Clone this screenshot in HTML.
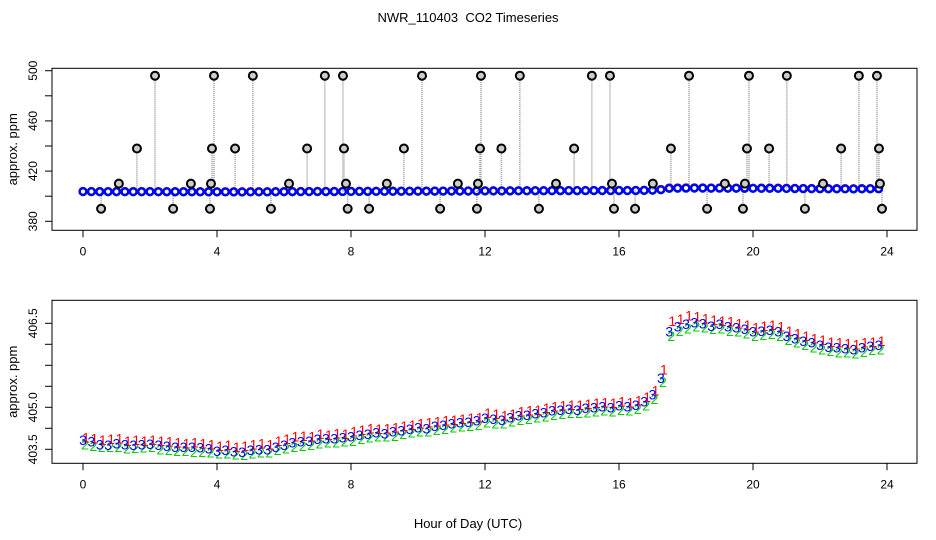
<!DOCTYPE html>
<html><head><meta charset="utf-8"><style>
body{margin:0;background:#fff;}
svg{display:block;font-family:"Liberation Sans",sans-serif;}
</style></head><body>
<svg id="chart" width="936" height="540" viewBox="0 0 936 540" xmlns="http://www.w3.org/2000/svg">
<rect width="936" height="540" fill="#fff"/>
<text x="468" y="22" font-size="13" text-anchor="middle" xml:space="preserve">NWR_110403  CO2 Timeseries</text>
<text x="468" y="528" font-size="13" text-anchor="middle">Hour of Day (UTC)</text>
<g id="top"></g>
<g id="bot"></g>
</svg>
<script>
const times=[0,0.25,0.5,0.75,1,1.25,1.5,1.75,2,2.25,2.5,2.75,3,3.25,3.5,3.75,
4,4.25,4.5,4.75,5,5.25,5.5,5.75,6,6.25,6.5,6.75,7,7.25,7.5,7.75,
8,8.25,8.5,8.75,9,9.25,9.5,9.75,10,10.25,10.5,10.75,11,11.25,11.5,11.75,
12,12.25,12.5,12.75,13,13.25,13.5,13.75,14,14.25,14.5,14.75,15,15.25,15.5,15.75,
16,16.25,16.5,16.75,17,17.25,17.5,17.75,18,18.25,18.5,18.75,19,19.25,19.5,19.75,
20,20.25,20.5,20.75,21,21.25,21.5,21.75,22,22.25,22.5,22.75,23,23.25,23.5,23.75];
const series3=[403.72,403.68,403.62,403.60,403.64,403.62,403.60,403.62,403.63,403.60,403.58,403.56,403.55,403.55,403.54,403.52,
403.46,403.48,403.45,403.43,403.48,403.50,403.49,403.55,403.60,403.66,403.68,403.70,403.74,403.76,403.76,403.78,
403.80,403.84,403.86,403.90,403.88,403.92,403.95,403.98,404.02,404.00,404.05,404.08,404.12,404.14,404.15,404.18,
404.24,404.22,404.20,404.26,404.30,404.32,404.35,404.38,404.42,404.44,404.46,404.44,404.48,404.50,404.52,404.50,
404.54,404.52,404.56,404.64,404.80,405.20,406.30,406.42,406.48,406.52,406.50,406.44,406.48,406.42,406.40,406.36,
406.30,406.32,406.34,406.30,406.20,406.14,406.08,406.04,405.98,405.94,405.92,405.90,405.88,405.92,405.96,405.98];
const series1=[403.78,403.76,403.72,403.74,403.76,403.70,403.72,403.70,403.72,403.70,403.68,403.66,403.64,403.66,403.64,403.62,
403.58,403.60,403.56,403.58,403.62,403.64,403.62,403.70,403.74,403.80,403.82,403.80,403.86,403.84,403.88,403.86,
403.92,403.96,404.00,403.98,404.00,404.02,404.06,404.08,404.12,404.14,404.16,404.18,404.20,404.22,404.24,404.26,
404.36,404.34,404.30,404.34,404.40,404.42,404.44,404.48,404.52,404.54,404.56,404.55,404.58,404.60,404.62,404.60,
404.64,404.62,404.66,404.74,404.90,405.40,406.55,406.60,406.68,406.66,406.62,406.58,406.56,406.54,406.50,406.46,
406.40,406.44,406.46,406.42,406.32,406.26,406.20,406.14,406.10,406.06,406.04,406.02,406.00,406.04,406.06,406.08];
const series2=[403.62,403.58,403.55,403.56,403.55,403.52,403.53,403.54,403.55,403.50,403.48,403.46,403.46,403.44,403.44,403.42,
403.40,403.40,403.38,403.36,403.40,403.42,403.42,403.48,403.52,403.56,403.58,403.60,403.64,403.66,403.66,403.68,
403.70,403.74,403.78,403.80,403.80,403.82,403.86,403.90,403.92,403.92,403.96,403.98,404.02,404.04,404.06,404.08,
404.14,404.12,404.12,404.16,404.20,404.22,404.26,404.28,404.32,404.34,404.36,404.36,404.38,404.40,404.42,404.40,
404.44,404.42,404.46,404.54,404.70,405.10,406.20,406.32,406.38,406.42,406.40,406.36,406.38,406.32,406.30,406.26,
406.20,406.22,406.24,406.20,406.10,406.04,405.98,405.92,405.88,405.84,405.80,405.80,405.78,405.82,405.86,405.88];
const outlierTimes=[0.54,1.07,1.61,2.15,2.69,3.22,3.79,3.82,3.85,3.91,4.54,5.07,5.61,6.15,6.69,7.22,7.76,7.79,7.85,7.9,
8.54,9.07,9.58,10.12,10.66,11.19,11.76,11.79,11.85,11.88,12.49,13.04,13.61,14.12,14.66,15.19,15.73,15.79,15.85,
16.48,17.01,17.55,18.09,18.63,19.16,19.7,19.76,19.82,19.88,20.48,21.01,21.55,22.09,22.63,23.16,23.7,23.76,23.79,23.85];
const outlierValues=[390,410,438,496,390,410,390,410,438,496,438,496,390,410,438,496,496,438,410,390,
390,410,438,496,390,410,390,410,438,496,438,496,390,410,438,496,496,410,390,
390,410,438,496,390,410,390,410,438,496,438,496,390,410,438,496,496,438,410,390];
const topTicks=[380,400,420,440,460,480,500];
const topLabels=["380","","420","","460","","500"];
const botTicks=[403.5,404,404.5,405,405.5,406,406.5];
const botLabels=["403.5","","405.0","","","","406.5"];
const xTicks=[0,4,8,12,16,20,24];

const NS="http://www.w3.org/2000/svg";
function mk(tag,attrs,parent){const e=document.createElementNS(NS,tag);for(const k in attrs)e.setAttribute(k,attrs[k]);parent.appendChild(e);return e;}
const xs=h=>83+h*33.5;
const yTop=v=>221.3-(v-380)*1.255;
const yBot=v=>449.3-(v-403.5)*42;

function frame(g,top,bottom,yTicks,yLabels,yf,name){
  const r=mk('rect',{x:52,y:top,width:865,height:bottom-top,fill:'none',stroke:'#000','stroke-width':1},g);
  
  
  xTicks.forEach(h=>{
    const l=mk('line',{x1:xs(h),x2:xs(h),y1:bottom,y2:bottom+7,stroke:'#000'},g);
    
    
    const t=mk('text',{x:xs(h),y:bottom+25,'font-size':12,'text-anchor':'middle'},g);
    t.textContent=String(h);
    
    
  });
  yTicks.forEach((v,i)=>{
    const y=yf(v);
    const l=mk('line',{x1:45,x2:52,y1:y,y2:y,stroke:'#000'},g);
    
    
    if(yLabels[i]){
      const t=mk('text',{x:0,y:0,'font-size':12,'text-anchor':'middle',transform:`translate(37,${y}) rotate(-90)`},g);
      t.textContent=yLabels[i];
      
      
    }
  });
  const yt=mk('text',{x:0,y:0,'font-size':13,'text-anchor':'middle',transform:`translate(17,${(top+bottom)/2}) rotate(-90)`},g);
  yt.textContent='approx. ppm';
  
  
}

const gT=document.getElementById('top'), gB=document.getElementById('bot');
frame(gT,68.3,230.3,topTicks,topLabels,yTop,'top');
frame(gB,300.3,463.3,botTicks,botLabels,yBot,'bottom');

outlierTimes.forEach((h,i)=>{
  const x=xs(h);
  const l=mk('line',{x1:x,x2:x,y1:yTop(series3[Math.min(95,Math.round(h*4))]),y2:yTop(outlierValues[i]),stroke:'#999','stroke-width':1.5,'stroke-dasharray':'1,1'},gT);
  
  
});
[[series1,'#f00'],[series2,'#00cc00'],[series3,'#00f']].forEach(([s,c],k)=>{
  times.forEach((h,i)=>{
    const cc=mk('circle',{cx:xs(h),cy:yTop(s[i]),r:3.4,fill:'none',stroke:c,'stroke-width':2.4},gT);
    
    
  });
});
outlierTimes.forEach((h,i)=>{
  const c=mk('circle',{cx:xs(h),cy:yTop(outlierValues[i]),r:4,fill:'#ccc',stroke:'#000','stroke-width':2},gT);
  
  
});
[[series2,'#00cc00','2'],[series1,'#f00','1'],[series3,'#00f','3']].forEach(([s,c,ch])=>{
  times.forEach((h,i)=>{
    const t=mk('text',{x:xs(h)+(ch==='1'?3:ch==='2'?2:0),y:yBot(s[i])+5,'font-size':14,'text-anchor':'middle',fill:c},gB);
    t.textContent=ch;
    
    
  });
});
</script>
</body></html>
